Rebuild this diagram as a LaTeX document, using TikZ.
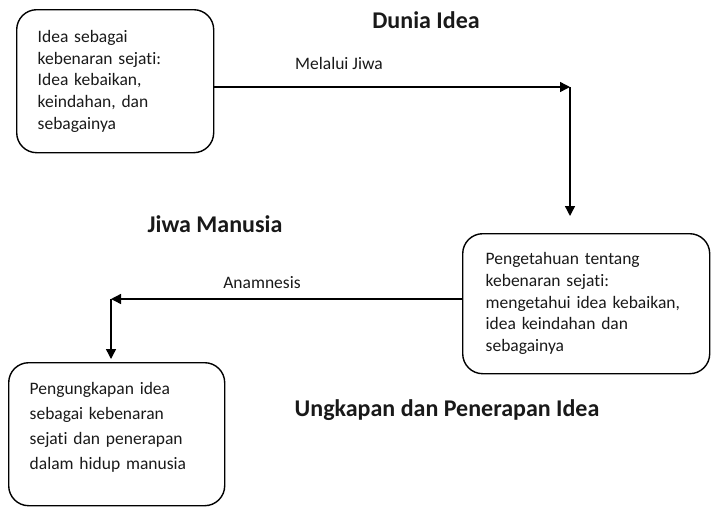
\documentclass[tikz,border=0pt]{standalone}
\usepackage{fontspec}
\setmainfont{Carlito}[Ligatures=NoCommon]
\usetikzlibrary{arrows.meta}
\begin{document}
\begin{tikzpicture}[x=1pt,y=-1pt,
  box/.style={draw, line width=1.4pt, rounded corners=20pt, align=left, anchor=north west,
    font=\fontsize{17.5}{21.7}\selectfont, text=black!90, inner xsep=0pt, inner ysep=0pt},
  title/.style={font=\fontsize{24}{28}\selectfont\bfseries, text=black!90},
  lbl/.style={font=\fontsize{17.5}{21}\selectfont, text=black!90},
  conn/.style={line width=1.4pt, -{Triangle[length=10pt,width=10pt]}}]
\useasboundingbox (0,0) rectangle (711,506);
\node[box, minimum width=197pt, minimum height=143pt, text width=155pt] (b1) at (16,9)
  {Idea sebagai\\kebenaran sejati:\\Idea kebaikan,\\keindahan, dan\\sebagainya};
\node[box, minimum width=247pt, minimum height=140pt, text width=201pt] (b2) at (462,233)
  {Pengetahuan tentang\\kebenaran sejati:\\mengetahui idea kebaikan,\\idea keindahan dan\\sebagainya};
\node[box, minimum width=216pt, minimum height=143pt, text width=174pt,
  font=\fontsize{17.5}{25}\selectfont] (b3) at (8,362)
  {Pengungkapan idea\\sebagai kebenaran\\sejati dan penerapan\\dalam hidup manusia\\[-9pt]\mbox{}};
\node[title] (t1) at (426,20) {Dunia Idea};
\node[title] (t2) at (215,224) {Jiwa Manusia};
\node[title] (t3) at (447,410) {Ungkapan dan Penerapan Idea};
\node[lbl] (l1) at (339,63) {Melalui Jiwa};
\node[lbl] (l2) at (262,283) {Anamnesis};
\coordinate (c1) at (570,87);
\coordinate (c2) at (570,216);
\coordinate (c3) at (111,299);
\coordinate (c4) at (111,359);
\draw[conn] (b1.east |- c1) -- (c1);
\draw[conn] (c1) -- (c2);
\draw[conn] (b2.west |- c3) -- (c3);
\draw[conn] (c3) -- (c4);
\end{tikzpicture}
\end{document}
